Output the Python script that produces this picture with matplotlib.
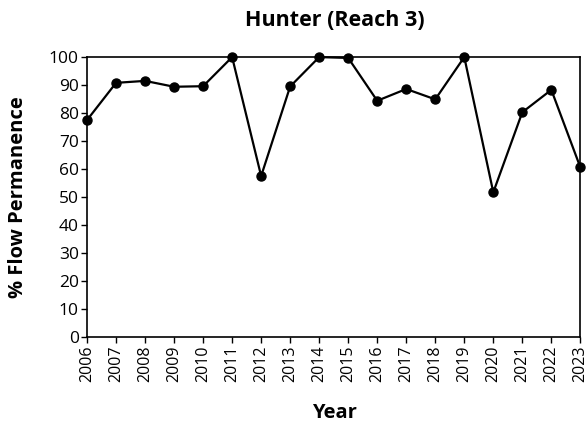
import matplotlib
matplotlib.use("Agg")
import matplotlib.pyplot as plt

years = list(range(2006, 2024))
values = [77.5, 90.8, 91.5, 89.4, 89.6, 100.0, 57.5, 89.5, 100.0, 99.7,
          84.4, 88.6, 84.9, 100.0, 51.7, 80.3, 88.3, 60.6]
yticks = list(range(0, 101, 10))

plt.rcParams['font.family'] = ['Open Sans', 'DejaVu Sans']

fig = plt.figure(figsize=(5.88, 4.28), dpi=100)
ax = fig.add_axes([0.148, 0.2126, 0.839, 0.654])
ax.plot(years, values, color='black', lw=1.6, marker='o', markersize=6.5, clip_on=False, zorder=3)
ax.set_xlim(2006, 2023)
ax.set_ylim(0, 100)
ax.set_xticks(years)
ax.set_xticklabels([str(y) for y in years], rotation=90, fontsize=11.5)
ax.set_yticks(yticks)
ax.set_yticklabels([str(v) for v in yticks], fontsize=12.5)
ax.tick_params(direction='out', length=4, width=1, colors='black', pad=2)
for s in ax.spines.values():
    s.set_linewidth(1.2)
fig.text(0.569, 0.953, 'Hunter (Reach 3)', fontsize=15.5, fontweight='bold', ha='center', va='center')
fig.text(0.031, 0.54, '% Flow Permanence', fontsize=14.5, fontweight='bold', rotation=90, ha='center', va='center')
fig.text(0.569, 0.035, 'Year', fontsize=14.5, fontweight='bold', ha='center', va='center')
fig.savefig('out.png', dpi=100)
